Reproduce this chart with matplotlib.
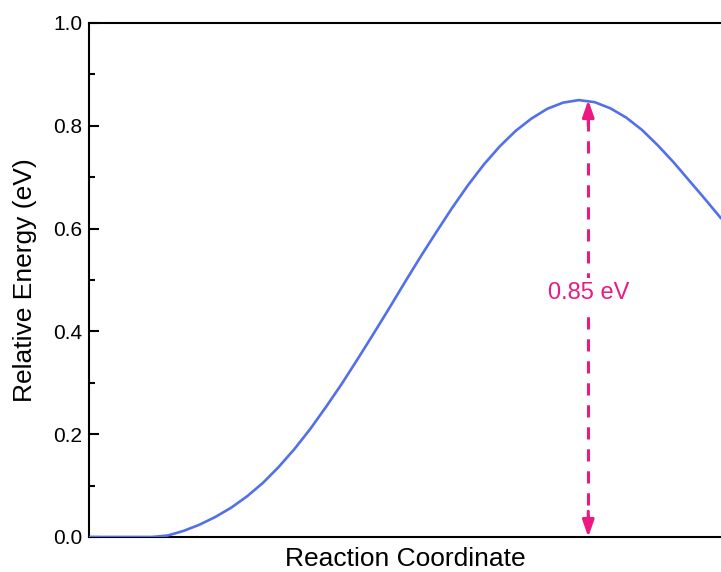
import matplotlib
matplotlib.use("Agg")
import matplotlib.pyplot as plt
from matplotlib.ticker import MultipleLocator

plt.rcParams["font.family"] = ["Liberation Sans", "DejaVu Sans"]

# energy profile along the reaction path (arbitrary coordinate 0..1)
coord = [0.000, 0.050, 0.100, 0.125, 0.150, 0.175, 0.200, 0.225, 0.250, 0.275,
         0.300, 0.325, 0.350, 0.375, 0.400, 0.425, 0.450, 0.475, 0.500, 0.525,
         0.550, 0.575, 0.600, 0.625, 0.650, 0.675, 0.700, 0.725, 0.750, 0.775,
         0.800, 0.825, 0.850, 0.875, 0.900, 0.925, 0.950, 0.975, 1.000]
energy = [0.000, 0.000, 0.000, 0.003, 0.012, 0.024, 0.039, 0.057, 0.079, 0.105,
          0.136, 0.171, 0.210, 0.253, 0.298, 0.346, 0.395, 0.445, 0.496, 0.546,
          0.594, 0.641, 0.685, 0.725, 0.760, 0.790, 0.814, 0.833, 0.845, 0.850,
          0.846, 0.834, 0.816, 0.792, 0.762, 0.729, 0.693, 0.657, 0.620]

barrier = 0.85
ts_coord = 0.790
pink = "#ec1a80"

fig = plt.figure(figsize=(7.21, 5.72), dpi=100)
ax = fig.add_axes([0.1234, 0.0612, 0.8766, 0.8986])

ax.plot(coord, energy, color="#5170ea", lw=1.9, solid_capstyle="round", zorder=3)

# dashed barrier marker with arrow heads at both ends
ax.plot([ts_coord, ts_coord], [0.02, barrier - 0.02], color=pink, lw=2.2,
        dashes=(4.0, 3.2), zorder=2)
for y0, y1 in [(barrier - 0.05, barrier), (0.05, 0.0)]:
    ax.annotate("", xy=(ts_coord, y1), xytext=(ts_coord, y0),
                arrowprops=dict(arrowstyle="-|>,head_length=1.0,head_width=0.35",
                                color=pink, lw=2.2, shrinkA=0, shrinkB=0),
                zorder=4)
ax.text(ts_coord, 0.475, f"{barrier:.2f} eV", color=pink, fontsize=17,
        ha="center", va="center", zorder=5,
        bbox=dict(fc="white", ec="none", pad=3))

ax.set_xlim(0, 1)
ax.set_ylim(0, 1.0)
ax.set_xticks([])
ax.yaxis.set_major_locator(MultipleLocator(0.2))
ax.yaxis.set_minor_locator(MultipleLocator(0.1))
ax.tick_params(axis="y", which="major", direction="in", length=7, width=1.5,
               labelsize=15, pad=5)
ax.tick_params(axis="y", which="minor", direction="in", length=4, width=1.5)
ax.set_yticklabels([f"{v:.1f}" for v in ax.get_yticks()])

for side in ["left", "bottom", "top"]:
    ax.spines[side].set_linewidth(1.5)
ax.spines["right"].set_visible(False)

ax.set_xlabel("Reaction Coordinate", fontsize=19, labelpad=7)
ax.set_ylabel("Relative Energy (eV)", fontsize=19, labelpad=11)

fig.savefig("out.png", dpi=100, facecolor="white")
